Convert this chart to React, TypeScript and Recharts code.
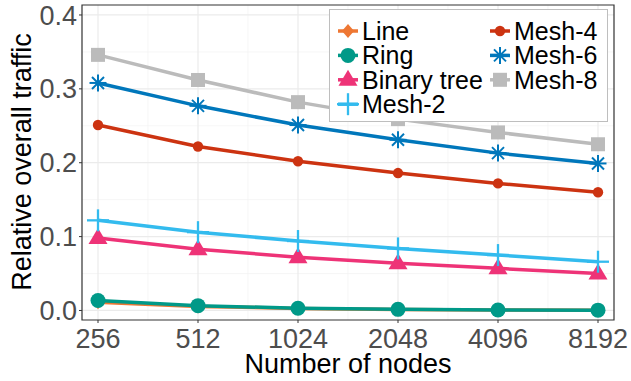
import React from 'react';
import {
    LineChart,
    Line,
    XAxis,
    YAxis,
    CartesianGrid,
    ReferenceArea,
} from 'recharts';

const NODES = [256, 512, 1024, 2048, 4096, 8192];
const LINE_VALUES = [0.011, 0.0055, 0.0027, 0.0013, 0.0006, 0.0003];
const RING_VALUES = [0.0135, 0.0065, 0.003, 0.0015, 0.0007, 0.0004];
const BINARY_TREE_VALUES = [0.098, 0.083, 0.072, 0.064, 0.057, 0.050];
const MESH2_VALUES = [0.122, 0.106, 0.094, 0.084, 0.075, 0.066];
const MESH4_VALUES = [0.251, 0.222, 0.202, 0.186, 0.172, 0.160];
const MESH6_VALUES = [0.308, 0.277, 0.251, 0.231, 0.213, 0.199];
const MESH8_VALUES = [0.346, 0.312, 0.282, 0.259, 0.241, 0.225];

const Y_TICKS = [0, 0.1, 0.2, 0.3, 0.4];
const Y_MINOR = [0.05, 0.15, 0.25, 0.35];

const SERIES = [
    { key: 'line', name: 'Line', values: LINE_VALUES, color: '#EE7733', shape: 'diamond' },
    { key: 'ring', name: 'Ring', values: RING_VALUES, color: '#009988', shape: 'bigCircle' },
    { key: 'tree', name: 'Binary tree', values: BINARY_TREE_VALUES, color: '#EE3377', shape: 'triangle' },
    { key: 'mesh2', name: 'Mesh-2', values: MESH2_VALUES, color: '#33BBEE', shape: 'plus' },
    { key: 'mesh4', name: 'Mesh-4', values: MESH4_VALUES, color: '#CC3311', shape: 'circle' },
    { key: 'mesh6', name: 'Mesh-6', values: MESH6_VALUES, color: '#0077BB', shape: 'asterisk' },
    { key: 'mesh8', name: 'Mesh-8', values: MESH8_VALUES, color: '#BBBBBB', shape: 'square' },
];

// x is plotted on log2 scale, like the original
const data = NODES.map((n, i) => {
    const row: Record<string, number> = { x: Math.log2(n) };
    SERIES.forEach((s) => { row[s.key] = s.values[i]; });
    return row;
});
const X_TICKS = NODES.map((n) => Math.log2(n));
const X_MINOR = X_TICKS.slice(0, -1).map((v) => v + 0.5);
const X_DOMAIN = [X_TICKS[0] - 0.16, X_TICKS[X_TICKS.length - 1] + 0.16];
const Y_DOMAIN = [-0.0129, 0.4135];

const FONT = '"Liberation Sans", Arial, sans-serif';

function Marker({ shape, color, cx, cy }: { shape: string; color: string; cx: number; cy: number }) {
    switch (shape) {
        case 'diamond':
            return <polygon points={`${cx},${cy - 7} ${cx + 6},${cy} ${cx},${cy + 7} ${cx - 6},${cy}`} fill={color} />;
        case 'bigCircle':
            return <circle cx={cx} cy={cy} r={7.5} fill={color} />;
        case 'triangle':
            return <polygon points={`${cx},${cy - 10} ${cx + 9.5},${cy + 6} ${cx - 9.5},${cy + 6}`} fill={color} />;
        case 'plus':
            return (
                <g stroke={color} strokeWidth={2.3}>
                    <line x1={cx - 11} y1={cy} x2={cx + 11} y2={cy} />
                    <line x1={cx} y1={cy - 11} x2={cx} y2={cy + 11} />
                </g>
            );
        case 'circle':
            return <circle cx={cx} cy={cy} r={5.2} fill={color} />;
        case 'asterisk':
            return (
                <g stroke={color} strokeWidth={2}>
                    <line x1={cx - 8.5} y1={cy} x2={cx + 8.5} y2={cy} />
                    <line x1={cx} y1={cy - 8.5} x2={cx} y2={cy + 8.5} />
                    <line x1={cx - 6} y1={cy - 6} x2={cx + 6} y2={cy + 6} />
                    <line x1={cx - 6} y1={cy + 6} x2={cx + 6} y2={cy - 6} />
                </g>
            );
        case 'square':
            return <rect x={cx - 7} y={cy - 7} width={14} height={14} fill={color} />;
        default:
            return null;
    }
}

function LegendBox() {
    const rows = [0, 1, 2, 3];
    return (
        <div
            style={{
                position: 'absolute',
                left: 329,
                top: 9,
                width: 279,
                height: 113,
                boxSizing: 'border-box',
                border: '1px solid #BEBEBE',
                background: '#fff',
                fontFamily: FONT,
            }}
        >
            <svg width={279} height={113} style={{ position: 'absolute', left: -1, top: -1 }}>
                {SERIES.map((s, i) => {
                    const col = i < 4 ? 0 : 1;
                    const row = col === 0 ? i : i - 4;
                    const kx = col === 0 ? 19 : 171;
                    const ky = 22 + rows[row] * 24.4;
                    return (
                        <g key={s.key}>
                            <line x1={kx - 10} y1={ky} x2={kx + 10} y2={ky} stroke={s.color} strokeWidth={3.5} />
                            <Marker shape={s.shape} color={s.color} cx={kx} cy={ky} />
                            <text x={kx + 14} y={ky + 9} fontSize={25} fill="#000" fontFamily={FONT}>
                                {s.name}
                            </text>
                        </g>
                    );
                })}
            </svg>
        </div>
    );
}

export default function App() {
    return (
        <div style={{ position: 'absolute', left: 0, top: 0, width: 631, height: 381, background: '#fff' }}>
            <LineChart
                width={631}
                height={381}
                data={data}
                margin={{ top: 5, right: 17, bottom: 0, left: 0 }}
            >
                <CartesianGrid
                    stroke="#F2F2F2"
                    strokeWidth={0.7}
                    horizontalValues={Y_MINOR}
                    verticalValues={X_MINOR}
                />
                <CartesianGrid
                    stroke="#EBEBEB"
                    strokeWidth={1.2}
                    horizontalValues={Y_TICKS}
                    verticalValues={X_TICKS}
                />
                <XAxis
                    dataKey="x"
                    type="number"
                    domain={X_DOMAIN}
                    ticks={X_TICKS}
                    allowDataOverflow
                    tickFormatter={(v: number) => String(Math.round(Math.pow(2, v)))}
                    height={61}
                    axisLine={false}
                    tickSize={3}
                    tickMargin={6}
                    tickLine={{ stroke: '#333333' }}
                    tick={{ fontSize: 27, fill: '#4D4D4D', fontFamily: FONT }}
                    label={{
                        content: () => (
                            <text x={348} y={373} textAnchor="middle" fontSize={27} fill="#000" fontFamily={FONT}>
                                Number of nodes
                            </text>
                        ),
                    }}
                />
                <YAxis
                    type="number"
                    domain={Y_DOMAIN}
                    ticks={Y_TICKS}
                    allowDataOverflow
                    tickFormatter={(v: number) => v.toFixed(1)}
                    width={82}
                    axisLine={false}
                    tickSize={3}
                    tickMargin={2}
                    tickLine={{ stroke: '#333333' }}
                    tick={{ fontSize: 27, fill: '#4D4D4D', fontFamily: FONT }}
                    label={{
                        content: () => (
                            <text
                                transform="translate(31,162) rotate(-90)"
                                textAnchor="middle"
                                fontSize={27}
                                fill="#000"
                                fontFamily={FONT}
                            >
                                Relative overall traffic
                            </text>
                        ),
                    }}
                />
                {SERIES.map((s) => (
                    <Line
                        key={s.key}
                        dataKey={s.key}
                        name={s.name}
                        stroke={s.color}
                        strokeWidth={3.5}
                        isAnimationActive={false}
                        activeDot={false}
                        dot={(p: any) => (
                            <Marker key={`${s.key}-${p.index}`} shape={s.shape} color={s.color} cx={p.cx} cy={p.cy} />
                        )}
                    />
                ))}
                <ReferenceArea
                    x1={X_DOMAIN[0]}
                    x2={X_DOMAIN[1]}
                    y1={Y_DOMAIN[0]}
                    y2={Y_DOMAIN[1]}
                    fill="none"
                    stroke="#333333"
                    strokeWidth={1.2}
                    ifOverflow="visible"
                />
            </LineChart>
            <LegendBox />
        </div>
    );
}
